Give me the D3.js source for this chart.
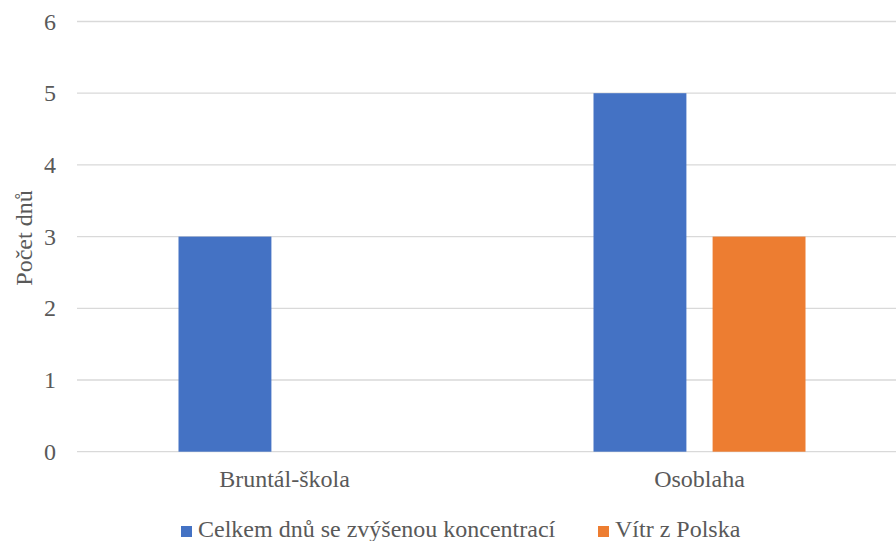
<!DOCTYPE html>
<html>
<head>
<meta charset="utf-8">
<script src="https://cdn.jsdelivr.net/npm/d3@7"></script>
<style>
  html, body { margin: 0; padding: 0; background: #fff; }
  svg { display: block; }
</style>
</head>
<body>
<svg id="chart" width="896" height="541"></svg>
<script>
// Stations and series
const categories = ["Bruntál-škola", "Osoblaha"];
const seriesNames = ["Celkem dnů se zvýšenou koncentrací", "Vítr z Polska"];
const celkemValues = [3, 5];
const vitrValues = [0, 3];
const yTicks = [0, 1, 2, 3, 4, 5, 6];
const colors = ["#4472C4", "#ED7D31"];
const yTitle = "Počet dnů";

(function () {
  const svg = d3.select("#chart");
  const textColor = "#595959";
  const font = "'Liberation Serif', 'Times New Roman', serif";
  const fontSize = 24;

  const plotLeft = 77, plotRight = 907, plotTop = 21.5, plotBottom = 451.7;

  const x = d3.scaleBand().domain(categories).range([plotLeft, plotRight]).paddingInner(0).paddingOuter(0);
  const xs = d3.scaleBand().domain(seriesNames).range([101.5, x.bandwidth() - 101.5]).paddingInner(0.22);
  const y = d3.scaleLinear().domain([0, 6]).range([plotBottom, plotTop]);

  const styleText = sel => sel.style("font-family", font).style("font-size", fontSize + "px").attr("fill", textColor);

  // Gridlines
  svg.append("g")
    .selectAll("line")
    .data(yTicks)
    .join("line")
    .attr("x1", plotLeft).attr("x2", 896)
    .attr("y1", d => y(d)).attr("y2", d => y(d))
    .attr("stroke", "#d9d9d9").attr("stroke-width", 1.3);

  // Y axis labels
  const yAxis = d3.axisLeft(y).tickValues(yTicks).tickSize(0).tickPadding(0).tickFormat(d3.format("d"));
  const gy = svg.append("g").attr("transform", "translate(56,0)").call(yAxis);
  gy.select(".domain").remove();
  gy.selectAll("text").call(styleText).attr("dy", "0.32em");

  // Bars
  const rows = categories.map((c, i) => ({ cat: c, vals: [celkemValues[i], vitrValues[i]] }));
  svg.append("g")
    .selectAll("g")
    .data(rows)
    .join("g")
    .attr("transform", d => `translate(${x(d.cat)},0)`)
    .selectAll("rect")
    .data(d => d.vals.map((v, j) => ({ key: seriesNames[j], v, j })))
    .join("rect")
    .attr("x", d => xs(d.key))
    .attr("width", xs.bandwidth())
    .attr("y", d => y(d.v))
    .attr("height", d => y(0) - y(d.v))
    .attr("fill", d => colors[d.j]);

  // X axis labels
  const xAxis = d3.axisBottom(x).tickSize(0).tickPadding(0);
  const gx = svg.append("g").attr("transform", `translate(0,${plotBottom})`).call(xAxis);
  gx.select(".domain").remove();
  gx.selectAll("text").call(styleText).attr("dy", 0).attr("y", 35);

  // Y title
  svg.append("text")
    .attr("transform", "translate(32,238) rotate(-90)")
    .attr("text-anchor", "middle")
    .call(styleText)
    .text(yTitle);

  // Legend
  const legendX = [181, 598];
  const lg = svg.append("g")
    .selectAll("g")
    .data(seriesNames)
    .join("g")
    .attr("transform", (d, i) => `translate(${legendX[i]},526)`);
  lg.append("rect").attr("width", 11).attr("height", 11).attr("fill", (d, i) => colors[i]);
  lg.append("text").attr("x", 17).attr("y", 11)
    .call(styleText)
    .text(d => d);
})();
</script>
</body>
</html>
